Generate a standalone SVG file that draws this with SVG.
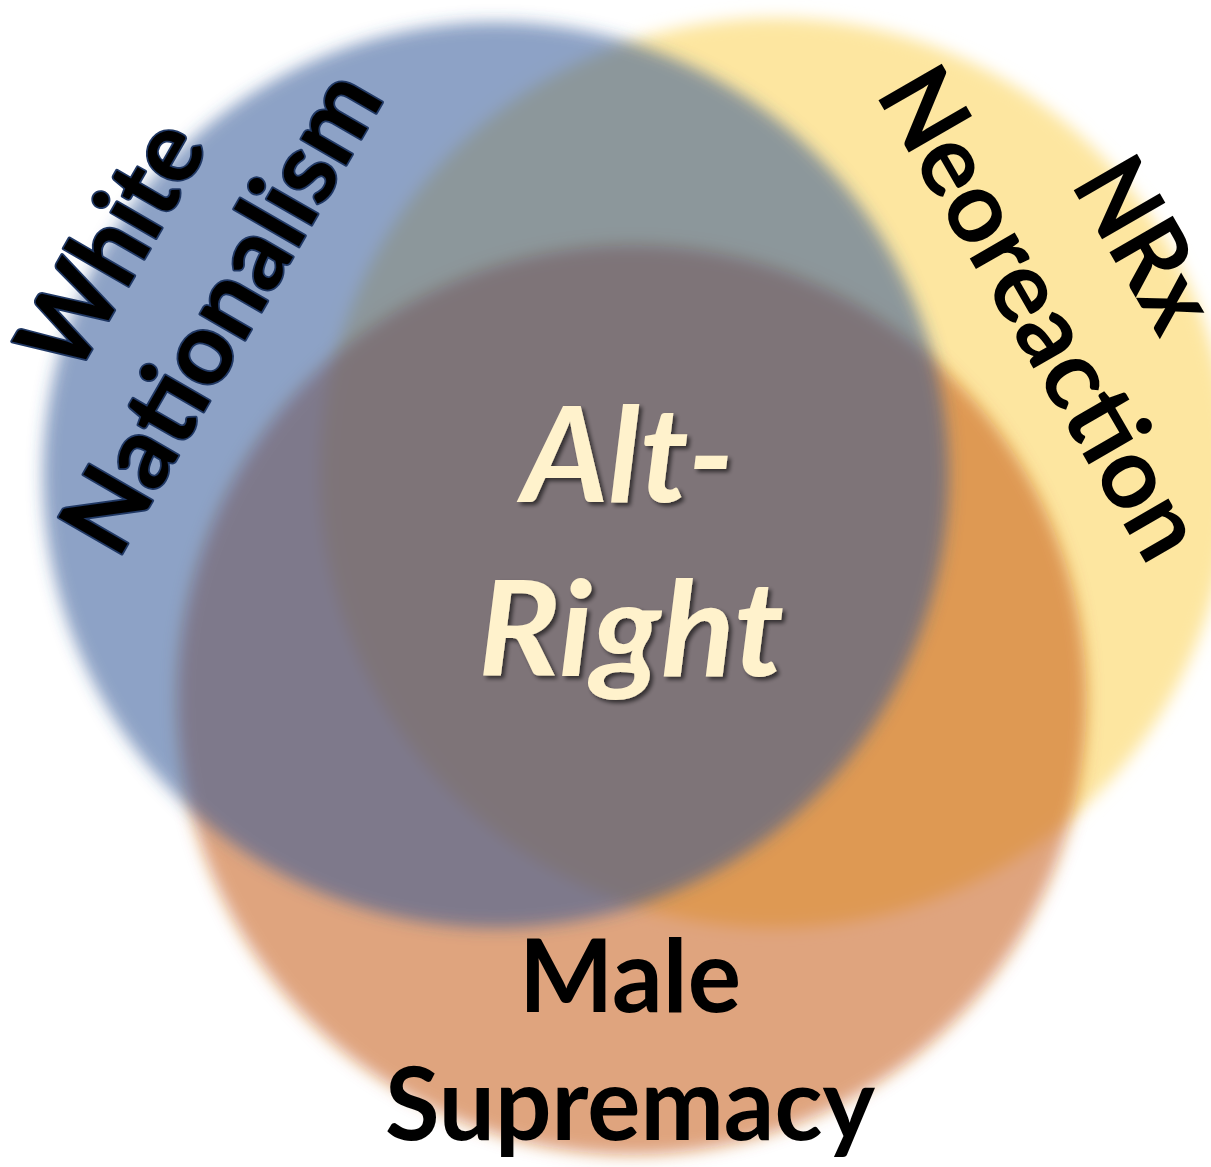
<svg xmlns="http://www.w3.org/2000/svg" width="1211" height="1167" viewBox="0 0 1211 1167">
<style>
  .lbl { font-family: Lato, "Open Sans", "Liberation Sans", sans-serif; font-weight: bold; font-size: 101px; fill: #000; text-anchor: middle; }
  .wn { stroke: #203864; stroke-width: 3.5; paint-order: stroke; stroke-linejoin: round; }
  .alt { font-family: Lato, "Open Sans", "Liberation Sans", sans-serif; font-weight: bold; font-style: italic; font-size: 132px; fill: #FFF2CC; text-anchor: middle; filter: url(#shadow); }
</style>
<defs>
  <filter id="soft" x="-10%" y="-10%" width="120%" height="120%">
    <feGaussianBlur stdDeviation="8"/>
  </filter>
  <filter id="shadow" x="-10%" y="-20%" width="130%" height="150%">
    <feDropShadow dx="3" dy="3" stdDeviation="2" flood-color="#000" flood-opacity="0.6"/>
  </filter>
</defs>
<rect width="1211" height="1167" fill="#fff"/>
<g id="node-neoreaction">
  <circle cx="775" cy="473" r="455" fill="#FDE6A0" filter="url(#soft)"/>
</g>
<g id="node-male-supremacy">
  <circle cx="632" cy="700" r="455" fill="#C55A11" fill-opacity="0.55" filter="url(#soft)"/>
</g>
<g id="node-white-nationalism">
  <circle cx="496" cy="475" r="453" fill="#2F5597" fill-opacity="0.55" filter="url(#soft)"/>
</g>
<g id="label-white-nationalism">
  <text class="lbl wn" transform="translate(141.8,262.8) rotate(-60)" textLength="268" lengthAdjust="spacingAndGlyphs">White</text>
  <text class="lbl wn" transform="translate(251.4,329) rotate(-60)" textLength="535" lengthAdjust="spacingAndGlyphs">Nationalism</text>
</g>
<g id="label-neoreaction">
  <text class="lbl" transform="translate(1115,261.6) rotate(60)" textLength="180" lengthAdjust="spacingAndGlyphs">NRx</text>
  <text class="lbl" transform="translate(1011.4,330.5) rotate(60)" textLength="548" lengthAdjust="spacingAndGlyphs">Neoreaction</text>
</g>
<g id="label-male-supremacy">
  <text class="lbl" x="630" y="1012" textLength="222" lengthAdjust="spacingAndGlyphs">Male</text>
  <text class="lbl" x="630" y="1140" textLength="490" lengthAdjust="spacingAndGlyphs">Supremacy</text>
</g>
<g id="node-alt-right">
  <text class="alt" x="628" y="502" textLength="212" lengthAdjust="spacingAndGlyphs">Alt-</text>
  <text class="alt" x="631" y="676" textLength="306" lengthAdjust="spacingAndGlyphs">Right</text>
</g>
</svg>
